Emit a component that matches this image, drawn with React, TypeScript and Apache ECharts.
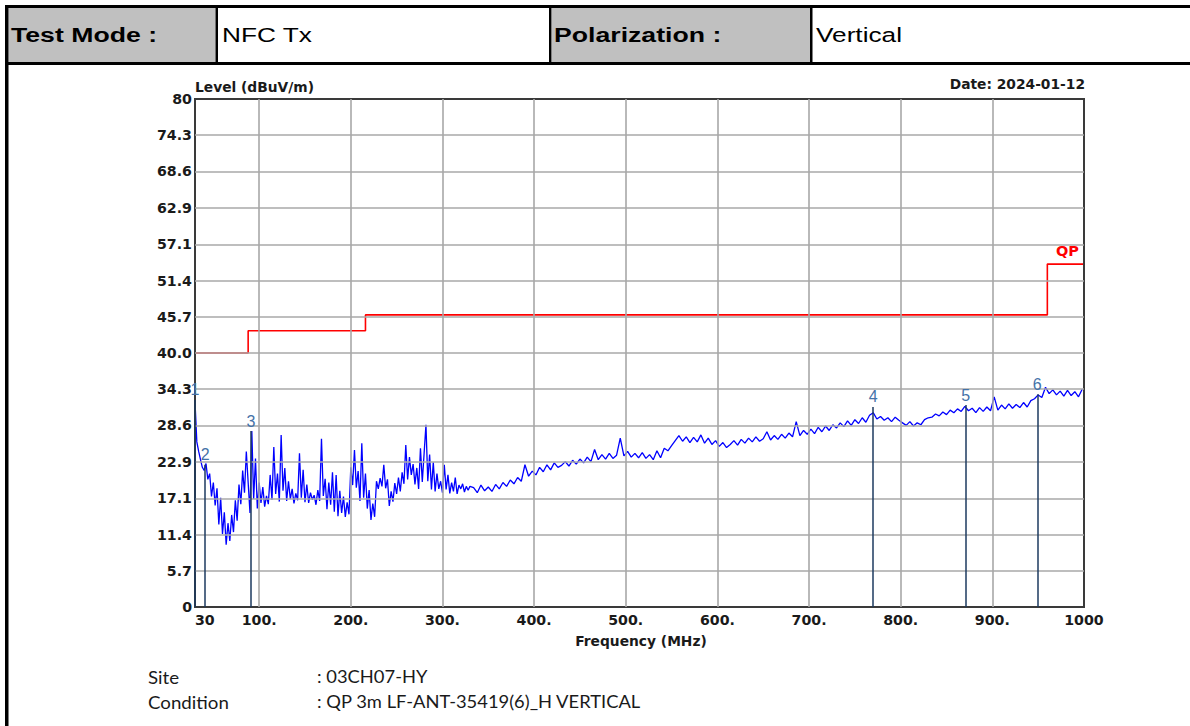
import React, { useEffect, useRef } from 'react';
import * as echarts from 'echarts';

// ---- texts ----
const HEADER_LABELS = ['Test Mode :', 'Polarization :'];
const HEADER_VALUES = ['NFC Tx', 'Vertical'];
const Y_TITLE = 'Level (dBuV/m)';
const X_TITLE = 'Frequency (MHz)';
const DATE_TEXT = 'Date: 2024-01-12';
const INFO_KEYS = ['Site', 'Condition'];
const INFO_VALUES = [': 03CH07-HY', ': QP 3m LF-ANT-35419(6)_H VERTICAL'];

// ---- axes ----
const X_TICKS = [30, 100, 200, 300, 400, 500, 600, 700, 800, 900, 1000];
const X_GRID = [100, 200, 300, 400, 500, 600, 700, 800, 900];
const Y_TICKS = [0, 5.7, 11.4, 17.1, 22.9, 28.6, 34.3, 40.0, 45.7, 51.4, 57.1, 62.9, 68.6, 74.3, 80];

// ---- QP limit (MHz, dBuV/m) ----
const LIMIT_FREQ = [30, 88, 88, 216, 216, 960, 960, 1000];
const LIMIT_LEVEL = [40, 40, 43.5, 43.5, 46, 46, 54, 54];

// ---- measured sweep, part A: 30..330 MHz every 2 MHz ----
const SWEEP_A_START = 30;
const SWEEP_A_STEP = 2;
const SWEEP_A = [
  32.3, 26.0, 24.5, 23.2, 22.0, 21.5, 22.6, 20.1, 21.0, 17.4,
  19.6, 16.0, 18.7, 13.0, 17.2, 11.5, 14.9, 9.8, 13.2, 10.4,
  14.5, 11.8, 16.8, 13.6, 19.3, 16.2, 21.5, 18.0, 24.5, 19.6,
  14.8, 27.7, 17.0, 23.4, 15.5, 19.6, 16.4, 18.9, 15.8, 17.5,
  16.2, 20.8, 16.9, 25.2, 17.8, 21.0, 16.6, 27.1, 18.3, 21.9,
  16.7, 19.8, 17.0, 18.6, 16.3, 17.9, 16.8, 24.2, 17.2, 21.6,
  16.5, 19.3, 16.4, 18.0, 16.9, 17.6, 16.1, 18.4, 16.7, 26.5,
  17.5, 20.2, 15.4, 19.6, 16.1, 21.2, 15.0, 20.8, 14.3, 18.3,
  14.8, 17.4, 14.2, 16.5, 14.6, 22.0, 19.2, 24.7, 18.8, 21.4,
  16.7, 25.8, 17.2, 21.0, 15.5, 18.4, 13.7, 16.3, 14.2, 19.8,
  18.6, 20.3, 19.0, 22.4, 18.7, 20.1, 15.9, 18.2, 16.6, 19.5,
  17.8, 20.4, 18.2, 21.2, 19.4, 25.5, 20.1, 23.6, 20.8, 22.5,
  19.3, 21.9, 18.6, 25.0, 19.7, 24.2, 28.7, 19.8, 24.0, 18.5,
  22.8, 18.2, 21.0, 18.6, 19.8, 18.0, 22.4, 18.5, 20.8, 17.9,
  19.6, 18.2, 20.4, 17.8, 19.2, 18.6, 19.4, 18.1, 19.0, 18.4,
  19.0,
];

// ---- measured sweep, part B: 334..998 MHz every 4 MHz ----
const SWEEP_B_START = 334;
const SWEEP_B_STEP = 4;
const SWEEP_B = [
  18.8, 18.0, 19.2, 18.3, 18.9, 18.2, 19.3, 18.6, 19.6, 19.0,
  20.0, 19.4, 20.4, 19.8, 22.4, 20.6, 21.4, 20.8, 22.0, 21.3,
  22.4, 21.6, 22.7, 22.0, 22.3, 22.9, 22.2, 23.1, 22.5, 23.3,
  22.7, 23.6, 22.9, 24.8, 23.2, 24.0, 23.3, 24.2, 23.4, 23.9,
  26.6, 23.8, 24.5, 23.6, 24.2, 23.5, 24.3, 23.4, 24.0, 23.2,
  24.6, 23.5, 25.0, 24.6, 25.4, 26.2, 27.0, 26.1, 26.8, 25.9,
  26.7, 26.0, 27.1, 25.8, 26.6, 25.6, 26.2, 25.3, 25.9, 25.1,
  25.6, 26.2, 25.5, 26.4, 25.8, 26.6, 26.0, 26.8, 26.1, 26.5,
  27.6, 26.3, 27.0, 26.4, 27.2, 26.6, 27.4, 26.8, 29.2, 27.0,
  27.8, 27.2, 28.0, 27.3, 28.3, 27.6, 28.5, 27.8, 28.7, 28.2,
  29.0, 28.4, 29.3, 28.6, 29.5, 28.9, 29.8, 29.1, 30.2, 30.6,
  29.6, 30.0, 29.4, 29.8, 29.2, 29.9, 29.4, 29.0, 28.6, 29.2,
  28.5, 29.0, 28.7, 29.5, 29.8, 29.9, 30.4, 30.1, 30.7, 30.3,
  31.0, 30.6, 31.2, 30.8, 31.6, 30.9, 31.3, 30.6, 31.4, 30.8,
  31.5, 30.9, 33.1, 31.0, 31.8, 31.2, 32.0, 31.3, 31.9, 31.4,
  32.2, 31.5, 32.5, 32.8, 33.4, 33.0, 34.6, 33.6, 34.2, 33.4,
  34.0, 33.2, 34.1, 33.3, 33.9, 33.1, 34.3,
];

// ---- markers ----
const MARKER_IDS = ['1', '2', '3', '4', '5', '6'];
const MARKER_FREQ = [30, 41, 91, 770, 871, 949];
const MARKER_LEVEL = [32.6, 22.4, 27.7, 31.5, 31.8, 33.5];

const CHART_FONT = 'DejaVu Sans';

export default function App() {
  const ref = useRef<HTMLDivElement>(null);

  useEffect(() => {
    if (!ref.current) return;
    const chart = echarts.init(ref.current, null, { renderer: 'svg' });

    const sweep: number[][] = [
      ...SWEEP_A.map((v, i) => [SWEEP_A_START + i * SWEEP_A_STEP, v]),
      ...SWEEP_B.map((v, i) => [SWEEP_B_START + i * SWEEP_B_STEP, v]),
    ];
    const limit = LIMIT_FREQ.map((f, i) => [f, LIMIT_LEVEL[i]]);

    const gridLeft = 195;
    const gridTop = 99;
    const gridW = 889;
    const gridH = 508;

    const headerCells = [
      { x: 8.5, w: 207, gray: true },
      { x: 218, w: 331, gray: false },
      { x: 552, w: 258, gray: true },
      { x: 812.5, w: 378, gray: false },
    ];

    const graphic: any[] = [
      ...headerCells.map((c) => ({
        type: 'rect',
        shape: { x: c.x, y: 8, width: c.w, height: 54 },
        style: { fill: c.gray ? '#c0c0c0' : '#ffffff' },
        silent: true,
      })),
      { type: 'rect', shape: { x: 5, y: 5, width: 1185, height: 3 }, style: { fill: '#000' }, silent: true },
      { type: 'rect', shape: { x: 5, y: 62, width: 1185, height: 3 }, style: { fill: '#000' }, silent: true },
      { type: 'rect', shape: { x: 5, y: 5, width: 3.5, height: 721 }, style: { fill: '#000' }, silent: true },
      { type: 'rect', shape: { x: 215.5, y: 8, width: 2.5, height: 54 }, style: { fill: '#000' }, silent: true },
      { type: 'rect', shape: { x: 549, y: 8, width: 2.5, height: 54 }, style: { fill: '#000' }, silent: true },
      { type: 'rect', shape: { x: 810, y: 8, width: 2.5, height: 54 }, style: { fill: '#000' }, silent: true },
      {
        type: 'text', x: 11, y: 35, scaleX: 1.3,
        style: { text: HEADER_LABELS[0], fontFamily: 'Liberation Sans', fontWeight: 'bold', fontSize: 20.5, fill: '#000', verticalAlign: 'middle' },
      },
      {
        type: 'text', x: 222, y: 35, scaleX: 1.28,
        style: { text: HEADER_VALUES[0], fontFamily: 'Liberation Sans', fontSize: 20.5, fill: '#000', verticalAlign: 'middle' },
      },
      {
        type: 'text', x: 554, y: 35, scaleX: 1.3,
        style: { text: HEADER_LABELS[1], fontFamily: 'Liberation Sans', fontWeight: 'bold', fontSize: 20.5, fill: '#000', verticalAlign: 'middle' },
      },
      {
        type: 'text', x: 816, y: 35, scaleX: 1.28,
        style: { text: HEADER_VALUES[1], fontFamily: 'Liberation Sans', fontSize: 20.5, fill: '#000', verticalAlign: 'middle' },
      },
      {
        type: 'text', x: 195, y: 87,
        style: { text: Y_TITLE, fontFamily: CHART_FONT, fontWeight: 'bold', fontSize: 13.8, fill: '#1a1a1a', verticalAlign: 'middle' },
      },
      {
        type: 'text', x: 1085, y: 84,
        style: { text: DATE_TEXT, fontFamily: CHART_FONT, fontWeight: 'bold', fontSize: 13.8, fill: '#1a1a1a', align: 'right', verticalAlign: 'middle' },
      },
      {
        type: 'text', x: 641, y: 641,
        style: { text: X_TITLE, fontFamily: CHART_FONT, fontWeight: 'bold', fontSize: 13.8, fill: '#1a1a1a', align: 'center', verticalAlign: 'middle' },
      },
      ...INFO_KEYS.map((k, i) => ({
        type: 'text', x: 148, y: 677 + i * 25, scaleX: 1.1,
        style: { text: k, fontFamily: 'Lato', fontSize: 17, fill: '#1a1a1a', verticalAlign: 'middle' },
      })),
      ...INFO_VALUES.map((k, i) => ({
        type: 'text', x: 317, y: 677 + i * 25, scaleX: 1.08,
        style: { text: k, fontFamily: 'Lato', fontSize: 17, fill: '#1a1a1a', verticalAlign: 'middle' },
      })),
    ];

    const option: any = {
      animation: false,
      backgroundColor: '#ffffff',
      grid: {
        left: gridLeft,
        top: gridTop,
        width: gridW,
        height: gridH,
        show: true,
        borderColor: '#3a3a3a',
        borderWidth: 2,
        backgroundColor: 'transparent',
        z: 5,
      },
      xAxis: {
        type: 'value',
        min: 30,
        max: 1000,
        axisLine: { show: false },
        axisTick: { show: false },
        splitLine: { show: false },
        axisLabel: {
          customValues: X_TICKS,
          formatter: (v: number) => (v === 30 || v === 1000 ? String(v) : v + '.'),
          fontFamily: CHART_FONT,
          fontWeight: 'bold',
          fontSize: 14.2,
          color: '#1a1a1a',
          margin: 6,
          alignMinLabel: 'left',
        },
      },
      yAxis: {
        type: 'value',
        min: 0,
        max: 80,
        axisLine: { show: false },
        axisTick: { show: false },
        splitLine: { show: false },
        axisLabel: {
          customValues: Y_TICKS,
          formatter: (v: number) => (v === 0 || v === 80 ? String(v) : v.toFixed(1)),
          fontFamily: CHART_FONT,
          fontWeight: 'bold',
          fontSize: 14.2,
          color: '#1a1a1a',
          margin: 3,
        },
      },
      graphic,
      series: [
        {
          type: 'line',
          name: 'grid',
          data: [],
          silent: true,
          z: 1,
          markLine: {
            silent: true,
            symbol: ['none', 'none'],
            label: { show: false },
            lineStyle: { color: '#a8a8a8', width: 1.6, type: 'solid' },
            data: [
              ...X_GRID.map((v) => ({ xAxis: v })),
              ...Y_TICKS.slice(1, -1).map((v) => ({ yAxis: v })),
            ],
          },
        },
        {
          type: 'line',
          name: 'QP',
          data: limit,
          symbol: 'none',
          lineStyle: { color: '#ff0000', width: 1.6 },
          z: 3,
          markPoint: {
            symbol: 'circle',
            symbolSize: 0,
            data: [
              {
                coord: [LIMIT_FREQ[LIMIT_FREQ.length - 1], LIMIT_LEVEL[LIMIT_LEVEL.length - 1]],
                label: {
                  show: true,
                  formatter: 'QP',
                  position: 'top',
                  align: 'right',
                  offset: [-5, -1],
                  color: '#ff0000',
                  fontFamily: CHART_FONT,
                  fontWeight: 'bold',
                  fontSize: 14.5,
                },
              },
            ],
          },
        },
        {
          type: 'line',
          name: 'Level',
          data: sweep,
          symbol: 'none',
          lineStyle: { color: '#0000ff', width: 1.3 },
          z: 4,
          markLine: {
            silent: true,
            symbol: ['none', 'none'],
            lineStyle: { color: '#1d3a5f', width: 1.5, type: 'solid' },
            label: {
              show: true,
              position: 'end',
              formatter: '{b}',
              distance: 2,
              color: '#4472a8',
              fontFamily: 'Liberation Sans',
              fontSize: 16,
            },
            data: MARKER_FREQ.map((f, i) => [
              { coord: [f, 0], name: MARKER_IDS[i] },
              { coord: [f, MARKER_LEVEL[i]] },
            ]),
          },
        },
      ],
    };

    chart.setOption(option);
    return () => chart.dispose();
  }, []);

  return (
    <div
      ref={ref}
      style={{ position: 'absolute', left: 0, top: 0, width: 1190, height: 726, background: '#fff' }}
    />
  );
}
